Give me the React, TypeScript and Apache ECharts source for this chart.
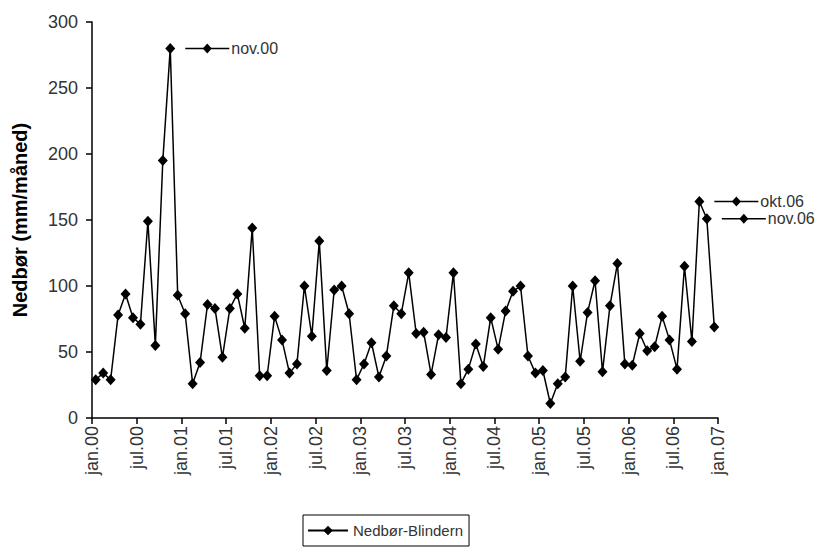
import React, { useEffect, useRef } from "react";
import * as echarts from "echarts";

const tickLabels = [
  "jan.00", "jul.00", "jan.01", "jul.01", "jan.02", "jul.02", "jan.03", "jul.03",
  "jan.04", "jul.04", "jan.05", "jul.05", "jan.06", "jul.06", "jan.07",
];

const values2000 = [29, 34, 29, 78, 94, 76, 71, 149, 55, 195, 280, 93];
const values2001 = [79, 26, 42, 86, 83, 46, 83, 94, 68, 144, 32, 32];
const values2002 = [77, 59, 34, 41, 100, 62, 134, 36, 97, 100, 79, 29];
const values2003 = [41, 57, 31, 47, 85, 79, 110, 64, 65, 33, 63, 61];
const values2004 = [110, 26, 37, 56, 39, 76, 52, 81, 96, 100, 47, 34];
const values2005 = [36, 11, 26, 31, 100, 43, 80, 104, 35, 85, 117, 41];
const values2006 = [40, 64, 51, 54, 77, 59, 37, 115, 58, 164, 151, 69];

const monthly = [
  ...values2000, ...values2001, ...values2002, ...values2003,
  ...values2004, ...values2005, ...values2006,
];

const annotations = [
  { month: 10, label: "nov.00" },
  { month: 81, label: "okt.06" },
  { month: 82, label: "nov.06" },
];

const seriesName = "Nedbør-Blindern";
const yTitle = "Nedbør (mm/måned)";
const FONT = "'Liberation Sans', Arial, sans-serif";

export default function App() {
  const ref = useRef<HTMLDivElement>(null);
  useEffect(() => {
    if (!ref.current) return;
    const chart = echarts.init(ref.current, null, { renderer: "svg" });
    const data = monthly.map((v, i) => [i + 0.5, v]);
    chart.setOption({
      animation: false,
      backgroundColor: "#ffffff",
      textStyle: { fontFamily: FONT },
      grid: { left: 92, right: 114, top: 22, bottom: 134 },
      xAxis: {
        type: "value",
        min: 0,
        max: 84,
        interval: 6,
        axisLine: { show: true, lineStyle: { color: "#000", width: 1.5 } },
        axisTick: { show: true, length: 6, lineStyle: { color: "#000", width: 1.5 } },
        splitLine: { show: false },
        axisLabel: {
          rotate: 90,
          margin: 8,
          color: "#333",
          fontSize: 18,
          fontFamily: FONT,
          formatter: (v: number) => tickLabels[Math.round(v / 6)] ?? "",
        },
      },
      yAxis: {
        type: "value",
        min: 0,
        max: 300,
        interval: 50,
        name: yTitle,
        nameLocation: "middle",
        nameGap: 62,
        nameTextStyle: { color: "#000", fontSize: 20, fontWeight: "bold", fontFamily: FONT },
        axisLine: { show: true, lineStyle: { color: "#000", width: 1.5 } },
        axisTick: { show: true, length: 6, lineStyle: { color: "#000", width: 1.5 } },
        splitLine: { show: false },
        axisLabel: { color: "#333", fontSize: 18, margin: 14, fontFamily: FONT },
      },
      legend: {
        left: 303,
        top: 515,
        padding: [8, 6, 8, 4],
        borderColor: "#000",
        borderWidth: 1,
        borderRadius: 0,
        itemWidth: 40,
        itemHeight: 12,
        itemGap: 4,
        textStyle: { color: "#333", fontSize: 15, fontFamily: FONT },
        data: [seriesName],
      },
      series: [
        {
          name: seriesName,
          type: "line",
          data,
          symbol: "diamond",
          symbolSize: [10, 11],
          lineStyle: { color: "#000", width: 1.5 },
          itemStyle: { color: "#000" },
        },
      ],
    });

    const graphics: any[] = [];
    annotations.forEach((a) => {
      const p = chart.convertToPixel({ xAxisIndex: 0, yAxisIndex: 0 }, [a.month + 0.5, monthly[a.month]]) as number[];
      const x0 = p[0] + 15;
      const x1 = p[0] + 59;
      const xm = (x0 + x1) / 2;
      const y = p[1];
      graphics.push({
        type: "line",
        shape: { x1: x0, y1: y, x2: x1, y2: y },
        style: { stroke: "#000", lineWidth: 1.5 },
      });
      graphics.push({
        type: "polygon",
        shape: { points: [[xm, y - 5], [xm + 4.5, y], [xm, y + 5], [xm - 4.5, y]] },
        style: { fill: "#000" },
      });
      graphics.push({
        type: "text",
        x: x1 + 2,
        y,
        style: {
          text: a.label,
          fill: "#333",
          fontSize: 16,
          fontFamily: FONT,
          verticalAlign: "middle",
          align: "left",
        },
      });
    });
    chart.setOption({ graphic: graphics });

    return () => chart.dispose();
  }, []);
  return (
    <div
      ref={ref}
      style={{ position: "fixed", left: 0, top: 0, width: 832, height: 552 }}
    />
  );
}
